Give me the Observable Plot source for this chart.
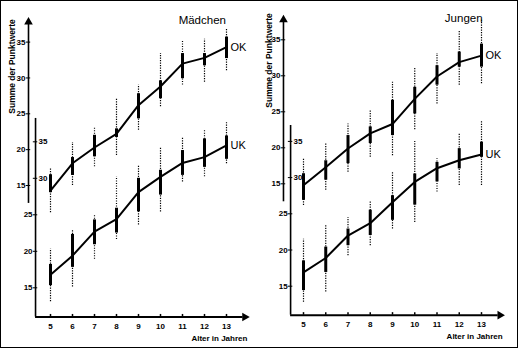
<!DOCTYPE html>
<html><head><meta charset="utf-8">
<script src="https://cdn.jsdelivr.net/npm/d3@7"></script>
<script src="https://cdn.jsdelivr.net/npm/@observablehq/plot@0.6"></script>
<style>
body{margin:0;background:#fff;}
#chart{position:relative;width:518px;height:348px;box-sizing:border-box;border:1px solid #000;overflow:hidden;background:#fff;}
#chart svg{position:absolute;top:-1px;}
</style></head><body><div id="chart"></div>
<script>
// ---- data ----
const ages = [5, 6, 7, 8, 9, 10, 11, 12, 13];
const okTicks = [15, 20, 25, 30, 35];
const ukTicksLow = [15, 20, 25];
const ukTicksHigh = [30, 35];
const titles = ["Mädchen", "Jungen"];
const seriesNames = ["OK", "UK"];
const yTitle = "Summe der Punktwerte";
const xTitle = "Alter in Jahren";

// Mädchen, OK
const mOkMean = [14.3, 18.1, 20.3, 22.2, 26.2, 28.8, 32.0, 32.8, 34.3];
const mOkMin  = [11.2, 15.0, 17.6, 19.2, 22.7, 26.0, 29.0, 29.4, 31.0];
const mOkMax  = [17.4, 21.0, 23.1, 27.1, 29.0, 33.4, 35.2, 35.4, 36.9];
const mOkLo   = [14.0, 16.4, 19.0, 21.7, 24.3, 27.1, 29.9, 31.7, 32.7];
const mOkHi   = [16.5, 18.9, 22.0, 22.9, 27.8, 29.6, 33.4, 33.4, 35.7];
// Mädchen, UK
const mUkMean = [16.8, 19.4, 22.7, 24.4, 28.1, 30.2, 32.1, 32.9, 34.5];
const mUkMin  = [13.1, 15.1, 18.9, 21.6, 23.6, 25.4, 29.5, 30.2, 32.0];
const mUkMax  = [20.3, 23.0, 25.0, 30.2, 31.8, 34.2, 35.6, 36.5, 37.6];
const mUkLo   = [15.3, 17.8, 20.9, 22.5, 25.4, 27.7, 30.4, 31.5, 32.6];
const mUkHi   = [18.2, 22.3, 24.3, 25.9, 30.0, 31.1, 33.8, 35.4, 35.8];
// Jungen, OK
const jOkMean = [14.8, 17.3, 19.9, 22.0, 23.3, 26.8, 29.9, 31.9, 32.8];
const jOkMin  = [12.0, 14.1, 16.6, 18.7, 18.9, 22.5, 26.1, 28.7, 28.9];
const jOkMax  = [18.5, 20.6, 23.3, 25.2, 29.1, 31.2, 33.1, 36.3, 37.7];
const jOkLo   = [12.7, 15.5, 17.8, 20.6, 21.7, 24.7, 28.7, 31.2, 31.2];
const jOkHi   = [16.4, 18.2, 21.7, 22.9, 26.6, 28.4, 31.4, 33.3, 34.4];
// Jungen, UK
const jUkMean = [16.9, 18.9, 22.0, 23.7, 26.6, 29.4, 31.3, 32.4, 33.2];
const jUkMin  = [12.8, 14.2, 19.2, 20.6, 22.9, 23.8, 28.0, 28.9, 28.9];
const jUkMax  = [21.5, 23.4, 24.5, 26.8, 30.7, 35.0, 32.6, 36.0, 37.9];
const jUkLo   = [14.4, 16.9, 20.6, 22.0, 24.1, 26.2, 29.4, 31.2, 32.8];
const jUkHi   = [18.5, 20.4, 22.9, 25.5, 27.5, 30.5, 32.1, 34.0, 34.9];

// ---- layout (scales) ----
const FONT = "'Liberation Sans', Arial, Helvetica, sans-serif";
const panels = [
  {title: titles[0], left: 0, xRange: [50, 226], uk15: 287.3, ukPpu: 7.3, ok15: 185, okPpu: 7.17,
   axOK: 4.0, axUK: 4.32, titleX: 11.9, yTitleX: 8, yTitleY: 66, ukTop: 38.2,
   ok: {mean: mOkMean, min: mOkMin, max: mOkMax, lo: mOkLo, hi: mOkHi},
   uk: {mean: mUkMean, min: mUkMin, max: mUkMax, lo: mUkLo, hi: mUkHi}},
  {title: titles[1], left: 259, xRange: [44, 222], uk15: 285.7, ukPpu: 7.24, ok15: 183.3, okPpu: 7.2,
   axOK: 4.1, axUK: 4.42, titleX: 12.2, yTitleX: 6, yTitleY: 60, ukTop: 37.2,
   ok: {mean: jOkMean, min: jOkMin, max: jOkMax, lo: jOkLo, hi: jOkHi},
   uk: {mean: jUkMean, min: jUkMin, max: jUkMax, lo: jUkLo, hi: jUkHi}}
];

function panel(p) {
  // OK values are drawn on their own (offset) scale, expressed in UK units
  const okU = v => 15 + (p.uk15 - (p.ok15 - (v - 15) * p.okPpu)) / p.ukPpu;
  const base = 11;       // x-axis line, UK units
  const xEnd = 13.95;    // x-axis end
  const tw = 0.1;        // half tick width (age units)
  const rows = (s, f) => ages.map((a, i) => ({age: a, mean: f(s.mean[i]), min: f(s.min[i]), max: f(s.max[i]), lo: f(s.lo[i]), hi: f(s.hi[i])}));
  const okRows = rows(p.ok, okU);
  const ukRows = rows(p.uk, v => v);
  const series = (rs, name) => [
    Plot.ruleX(rs, {x: "age", y1: "min", y2: "max", stroke: "#000", strokeWidth: 1.2, strokeDasharray: "1.2,1.3"}),
    Plot.ruleX(rs, {x: "age", y1: "lo", y2: "hi", stroke: "#000", strokeWidth: 3}),
    Plot.line(rs, {x: "age", y: "mean", stroke: "#000", strokeWidth: 2}),
    Plot.text([rs[rs.length - 1]], {x: "age", y: "mean", text: () => name, dx: 4, textAnchor: "start", fontSize: 11, fill: "#000"})
  ];
  const tickFont = {fontSize: 8, fontWeight: "bold", fill: "#000"};
  return Plot.plot({
    width: 259, height: 348, margin: 0,
    style: {fontFamily: FONT, background: "transparent", color: "#000"},
    x: {domain: [5, 13], range: p.xRange, axis: null},
    y: {domain: [15, 35], range: [p.uk15, p.uk15 - 20 * p.ukPpu], axis: null},
    marks: [
      // OK axis (upper)
      Plot.ruleX([0], {x: () => p.axOK, y1: () => okU(12.5), y2: () => okU(37.6), stroke: "#000", strokeWidth: 1.6}),
      Plot.dot([0], {x: () => p.axOK, y: () => okU(37.8), symbol: "triangle", r: 3.2, fill: "#000", stroke: "none"}),
      Plot.ruleY(okTicks, {y: okU, x1: p.axOK - tw, x2: p.axOK + tw, stroke: "#000", strokeWidth: 1}),
      Plot.text(okTicks, {x: () => p.axOK, y: okU, text: d => d, textAnchor: "end", dx: -3, ...tickFont}),
      // UK axis (lower)
      Plot.ruleX([0], {x: () => p.axUK, y1: () => base, y2: () => p.ukTop, stroke: "#000", strokeWidth: 1.6}),
      Plot.ruleY([...ukTicksLow, ...ukTicksHigh], {y: d => d, x1: p.axUK - tw, x2: p.axUK + tw, stroke: "#000", strokeWidth: 1}),
      Plot.text(ukTicksLow, {x: () => p.axUK, y: d => d, text: d => d, textAnchor: "end", dx: -3, ...tickFont}),
      Plot.text(ukTicksHigh, {x: () => p.axUK, y: d => d, text: d => d, textAnchor: "start", dx: 3, ...tickFont}),
      // x axis
      Plot.ruleY([base], {x1: p.axUK, x2: xEnd - 0.2, stroke: "#000", strokeWidth: 2}),
      Plot.dot([0], {x: () => xEnd - 0.12, y: () => base, symbol: "triangle", rotate: 90, r: 3.2, fill: "#000", stroke: "none"}),
      Plot.ruleX(ages, {x: d => d, y1: base, y2: base + 0.35, stroke: "#000", strokeWidth: 1.5}),
      Plot.text(ages, {x: d => d, y: () => base, text: d => d, dy: 9, ...tickFont}),
      Plot.text([xTitle], {x: () => xEnd, y: () => base, text: d => d, textAnchor: "end", dy: 21, ...tickFont}),
      // series
      ...series(okRows, seriesNames[0]),
      ...series(ukRows, seriesNames[1]),
      // titles
      Plot.text([p.title], {x: () => p.titleX, y: () => okU(38), text: d => d, fontSize: 11.5, fill: "#000"}),
      Plot.text([yTitle], {frameAnchor: "top-left", dx: p.yTitleX, dy: p.yTitleY, rotate: -90, textAnchor: "middle", fontSize: 8.5, fontWeight: "bold", fill: "#000"})
    ]
  });
}

const chart = document.getElementById("chart");
for (const p of panels) {
  const svg = panel(p);
  svg.style.left = (p.left - 1) + "px";
  chart.appendChild(svg);
}
</script>
</body></html>
